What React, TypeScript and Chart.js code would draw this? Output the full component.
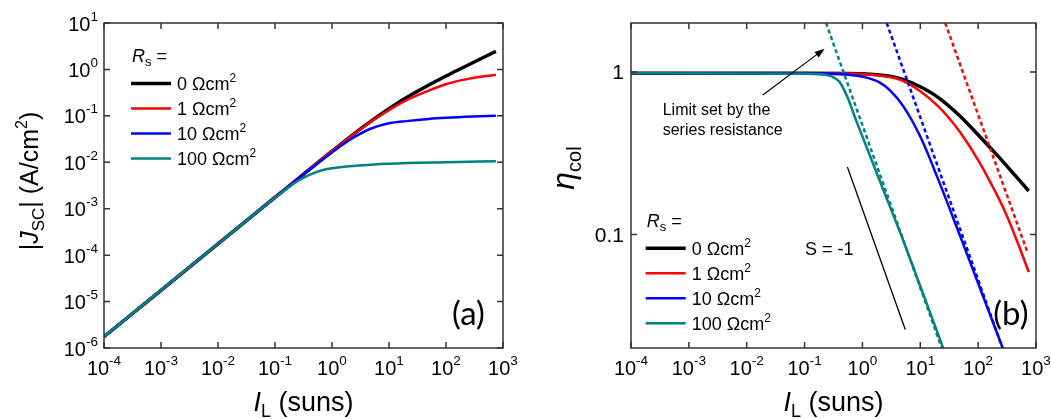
import { useEffect, useRef } from 'react';
import { Chart, registerables } from 'chart.js';

Chart.register(...registerables);

const FONT = "'Liberation Sans', Arial, sans-serif";

// Axis decades and tick labels
const X_DECADES = [-4, -3, -2, -1, 0, 1, 2, 3];
const JSC_DECADES = [-6, -5, -4, -3, -2, -1, 0, 1];
const ETA_TICKS = [1, 0.1];
const ETA_TICK_LABELS = ['1', '0.1'];

// Series resistance values (Ωcm²) and their styles
const RS_LABELS = ['0', '1', '10', '100'];
const RS_COLORS = ['#000000', '#ff0000', '#0000ff', '#008080'];
const RS_WIDTHS = [3.5, 2.5, 2.5, 2.5];

// (a) |Jsc| (A/cm²) versus light intensity (suns)
const jscSunsRs0 = [1e-4, 1e-3, 1e-2, 0.1, 0.3, 1, 3, 5, 10, 20, 50, 100, 200, 500, 750];
const jscRs0 = [1.75e-6, 1.75e-5, 1.75e-4, 1.75e-3, 5.25e-3, 0.0173, 0.05, 0.079, 0.142, 0.245, 0.46, 0.72, 1.1, 1.92, 2.45];
const jscSunsRs1 = [1e-4, 1e-3, 1e-2, 0.1, 0.3, 1, 3, 5, 10, 20, 50, 100, 200, 500, 750];
const jscRs1 = [1.75e-6, 1.75e-5, 1.75e-4, 1.75e-3, 5.25e-3, 0.0172, 0.049, 0.077, 0.133, 0.215, 0.35, 0.48, 0.595, 0.725, 0.765];
const jscSunsRs10 = [1e-4, 1e-3, 1e-2, 0.1, 0.3, 1, 2, 3, 5, 10, 20, 50, 100, 300, 750];
const jscRs10 = [1.75e-6, 1.75e-5, 1.75e-4, 1.75e-3, 5.2e-3, 0.0163, 0.03, 0.04, 0.054, 0.069, 0.077, 0.086, 0.091, 0.097, 0.101];
const jscSunsRs100 = [1e-4, 1e-3, 1e-2, 0.1, 0.2, 0.3, 0.5, 0.7, 1, 2, 5, 10, 100, 750];
const jscRs100 = [1.75e-6, 1.75e-5, 1.75e-4, 1.72e-3, 3.3e-3, 4.5e-3, 6.0e-3, 6.8e-3, 7.4e-3, 8.2e-3, 8.9e-3, 9.3e-3, 1.0e-2, 1.05e-2];

// (b) collection efficiency versus light intensity (suns)
const etaSunsRs0 = [1e-4, 0.1, 0.5, 1, 3, 5, 10, 20, 50, 100, 200, 500, 750];
const etaRs0 = [0.98, 0.98, 0.978, 0.975, 0.94, 0.9, 0.81, 0.7, 0.53, 0.41, 0.315, 0.218, 0.185];
const etaSunsRs1 = [1e-4, 0.1, 0.5, 1, 3, 5, 10, 20, 30, 50, 100, 200, 300, 500, 750];
const etaRs1 = [0.98, 0.98, 0.978, 0.972, 0.93, 0.88, 0.76, 0.618, 0.53, 0.421, 0.287, 0.182, 0.135, 0.086, 0.0586];
const etaSunsRs10 = [1e-4, 0.1, 0.3, 0.6, 1, 2, 3, 5, 10, 20, 50, 100, 250, 320];
const etaRs10 = [0.98, 0.98, 0.975, 0.96, 0.935, 0.86, 0.77, 0.62, 0.4, 0.222, 0.0955, 0.05, 0.0212, 0.0168];
const etaSunsRs100 = [1e-4, 0.1, 0.2, 0.3, 0.4, 0.55, 0.8, 1, 1.4, 2, 5, 10, 20, 30];
const etaRs100 = [0.98, 0.975, 0.965, 0.935, 0.87, 0.7, 0.49, 0.4, 0.295, 0.213, 0.093, 0.048, 0.0247, 0.0166];

// Series-resistance limits (dashed)
const limitSunsRs1 = [27, 700];
const limitRs1 = [2.0, 0.079];
const limitSunsRs10 = [2.63, 263];
const limitRs10 = [2.0, 0.02];
const limitSunsRs100 = [0.235, 23.5];
const limitRs100 = [2.0, 0.02];

// Slope reference line S = -1
const slopeSuns = [0.55, 5.5];
const slopeEta = [0.26, 0.026];

// Annotation arrow (suns, eta): tail then head
const arrowSuns = [0.019, 0.222];
const arrowEta = [0.72, 1.39];

type Run = { text: string; size: number; dy?: number; italic?: boolean; family?: string };

function fontOf(r: Run) {
  return `${r.italic ? 'italic ' : ''}${r.size}px ${r.family ?? FONT}`;
}

function drawRuns(ctx: CanvasRenderingContext2D, runs: Run[], x: number, y: number, align: 'left' | 'center' | 'right') {
  const widths = runs.map((r) => {
    ctx.font = fontOf(r);
    return ctx.measureText(r.text).width;
  });
  const total = widths.reduce((a, b) => a + b, 0);
  let cx = align === 'left' ? x : align === 'center' ? x - total / 2 : x - total;
  ctx.textAlign = 'left';
  ctx.textBaseline = 'alphabetic';
  runs.forEach((r, i) => {
    ctx.font = fontOf(r);
    ctx.fillText(r.text, cx, y + (r.dy ?? 0));
    cx += widths[i];
  });
}

function pow10Runs(e: number): Run[] {
  return [
    { text: '10', size: 20 },
    { text: String(e), size: 13.5, dy: -10 },
  ];
}

function series(xs: number[], ys: number[]) {
  return xs.map((x, i) => ({ x, y: ys[i] }));
}

function solid(i: number, xs: number[], ys: number[]) {
  return {
    data: series(xs, ys),
    borderColor: RS_COLORS[i],
    borderWidth: RS_WIDTHS[i],
    pointRadius: 0,
    cubicInterpolationMode: 'monotone' as const,
    fill: false,
    order: 3 - i,
  };
}

function dashed(i: number, xs: number[], ys: number[]) {
  return {
    data: series(xs, ys),
    borderColor: RS_COLORS[i],
    borderWidth: 2.5,
    borderDash: [4, 3],
    pointRadius: 0,
    fill: false,
    order: -1,
  };
}

type Area = { left: number; right: number; top: number; bottom: number };

function drawFrame(ctx: CanvasRenderingContext2D, ca: Area) {
  ctx.strokeStyle = '#333';
  ctx.lineWidth = 1.5;
  ctx.strokeRect(ca.left, ca.top, ca.right - ca.left, ca.bottom - ca.top);
}

function drawXTicks(ctx: CanvasRenderingContext2D, chart: any) {
  const ca = chart.chartArea;
  const xs = chart.scales.x;
  ctx.strokeStyle = '#333';
  ctx.lineWidth = 1.5;
  ctx.fillStyle = '#000';
  X_DECADES.forEach((e) => {
    const px = xs.getPixelForValue(Math.pow(10, e));
    ctx.beginPath();
    ctx.moveTo(px, ca.bottom);
    ctx.lineTo(px, ca.bottom - 6);
    ctx.moveTo(px, ca.top);
    ctx.lineTo(px, ca.top + 6);
    ctx.stroke();
    drawRuns(ctx, pow10Runs(e), px, ca.bottom + 27, 'center');
  });
}

function drawYTick(ctx: CanvasRenderingContext2D, ca: Area, py: number) {
  ctx.beginPath();
  ctx.moveTo(ca.left, py);
  ctx.lineTo(ca.left + 6, py);
  ctx.moveTo(ca.right, py);
  ctx.lineTo(ca.right - 6, py);
  ctx.stroke();
}

function drawXTitle(ctx: CanvasRenderingContext2D, ca: Area) {
  drawRuns(
    ctx,
    [
      { text: 'I', size: 27, italic: true },
      { text: 'L', size: 18, dy: 6 },
      { text: ' (suns)', size: 27 },
    ],
    (ca.left + ca.right) / 2,
    411,
    'center'
  );
}

function drawLegend(ctx: CanvasRenderingContext2D, x: number, headY: number, firstY: number) {
  ctx.fillStyle = '#000';
  drawRuns(
    ctx,
    [
      { text: 'R', size: 18, italic: true },
      { text: 's', size: 13, dy: 4 },
      { text: ' =', size: 18 },
    ],
    x + 1,
    headY,
    'left'
  );
  RS_LABELS.forEach((lab, i) => {
    const y = firstY + 25 * i;
    ctx.strokeStyle = RS_COLORS[i];
    ctx.lineWidth = RS_WIDTHS[i];
    ctx.beginPath();
    ctx.moveTo(x, y);
    ctx.lineTo(x + 40, y);
    ctx.stroke();
    drawRuns(
      ctx,
      [
        { text: `${lab} Ωcm`, size: 18 },
        { text: '2', size: 12, dy: -8 },
      ],
      x + 46,
      y + 6.5,
      'left'
    );
  });
}

const decorA = {
  id: 'decorA',
  afterDatasetsDraw(chart: any) {
    const ctx: CanvasRenderingContext2D = chart.ctx;
    const ca = chart.chartArea;
    const ys = chart.scales.y;
    ctx.save();
    drawFrame(ctx, ca);
    drawXTicks(ctx, chart);
    ctx.strokeStyle = '#333';
    ctx.lineWidth = 1.5;
    ctx.fillStyle = '#000';
    JSC_DECADES.forEach((e) => {
      const py = ys.getPixelForValue(Math.pow(10, e));
      drawYTick(ctx, ca, py);
      drawRuns(ctx, pow10Runs(e), ca.left - 6, py + 7.5, 'right');
    });
    drawXTitle(ctx, ca);

    // rotated y title
    ctx.save();
    ctx.translate(38, 181);
    ctx.rotate(-Math.PI / 2);
    drawRuns(
      ctx,
      [
        { text: '|', size: 25 },
        { text: 'J', size: 25, italic: true },
        { text: 'SC', size: 17, dy: 6 },
        { text: '| (A/cm', size: 25 },
        { text: '2', size: 16, dy: -11 },
        { text: ')', size: 25 },
      ],
      0,
      0,
      'center'
    );
    ctx.restore();

    drawLegend(ctx, 131, 61.5, 83.5);

    ctx.fillStyle = '#000';
    drawRuns(ctx, [{ text: '(a)', size: 33, family: "Lato, 'Open Sans', sans-serif" }], 452, 325, 'left');
    ctx.restore();
  },
};

const decorB = {
  id: 'decorB',
  afterDatasetsDraw(chart: any) {
    const ctx: CanvasRenderingContext2D = chart.ctx;
    const ca = chart.chartArea;
    const xs = chart.scales.x;
    const ys = chart.scales.y;
    ctx.save();
    drawFrame(ctx, ca);
    drawXTicks(ctx, chart);
    ctx.strokeStyle = '#333';
    ctx.lineWidth = 1.5;
    ctx.fillStyle = '#000';
    ETA_TICKS.forEach((v, i) => {
      const py = ys.getPixelForValue(v);
      drawYTick(ctx, ca, py);
      drawRuns(ctx, [{ text: ETA_TICK_LABELS[i], size: 21 }], ca.left - 7, py + 7.5, 'right');
    });
    drawXTitle(ctx, ca);

    // rotated y title
    ctx.save();
    ctx.translate(44, 168);
    ctx.rotate(-Math.PI / 2);
    drawRuns(
      ctx,
      [
        { text: 'η', size: 32, italic: true },
        { text: 'col', size: 20, dy: 7 },
      ],
      0,
      0,
      'center'
    );
    ctx.restore();

    // annotation arrow
    const x0 = xs.getPixelForValue(arrowSuns[0]);
    const y0 = ys.getPixelForValue(arrowEta[0]);
    const x1 = xs.getPixelForValue(arrowSuns[1]);
    const y1 = ys.getPixelForValue(arrowEta[1]);
    const ang = Math.atan2(y1 - y0, x1 - x0);
    ctx.strokeStyle = '#000';
    ctx.lineWidth = 1.2;
    ctx.beginPath();
    ctx.moveTo(x0, y0);
    ctx.lineTo(x1 - 7 * Math.cos(ang), y1 - 7 * Math.sin(ang));
    ctx.stroke();
    ctx.fillStyle = '#000';
    ctx.beginPath();
    ctx.moveTo(x1, y1);
    ctx.lineTo(x1 - 10 * Math.cos(ang) + 3.5 * Math.sin(ang), y1 - 10 * Math.sin(ang) - 3.5 * Math.cos(ang));
    ctx.lineTo(x1 - 10 * Math.cos(ang) - 3.5 * Math.sin(ang), y1 - 10 * Math.sin(ang) + 3.5 * Math.cos(ang));
    ctx.closePath();
    ctx.fill();

    drawRuns(ctx, [{ text: 'Limit set by the', size: 16 }], 132.7, 115, 'left');
    drawRuns(ctx, [{ text: 'series resistance', size: 16 }], 132.7, 134.5, 'left');
    drawRuns(ctx, [{ text: 'S = -1', size: 18 }], 275, 254.5, 'left');

    drawLegend(ctx, 115.7, 227, 248.3);

    ctx.fillStyle = '#000';
    drawRuns(ctx, [{ text: '(b)', size: 33, family: "Lato, 'Open Sans', sans-serif" }], 463.3, 325, 'left');
    ctx.restore();
  },
};

function buildA(canvas: HTMLCanvasElement) {
  return new Chart(canvas, {
    type: 'line',
    data: {
      datasets: [
        solid(0, jscSunsRs0, jscRs0),
        solid(1, jscSunsRs1, jscRs1),
        solid(2, jscSunsRs10, jscRs10),
        solid(3, jscSunsRs100, jscRs100),
      ] as any,
    },
    options: {
      responsive: false,
      animation: false,
      devicePixelRatio: 1,
      layout: { padding: { left: 104, right: 27, top: 23, bottom: 71 } },
      plugins: { legend: { display: false }, tooltip: { enabled: false } },
      scales: {
        x: { type: 'logarithmic', min: 1e-4, max: 1e3, display: false },
        y: { type: 'logarithmic', min: 1e-6, max: 10, display: false },
      },
    },
    plugins: [decorA],
  });
}

function buildB(canvas: HTMLCanvasElement) {
  return new Chart(canvas, {
    type: 'line',
    data: {
      datasets: [
        solid(0, etaSunsRs0, etaRs0),
        solid(1, etaSunsRs1, etaRs1),
        solid(2, etaSunsRs10, etaRs10),
        solid(3, etaSunsRs100, etaRs100),
        dashed(1, limitSunsRs1, limitRs1),
        dashed(2, limitSunsRs10, limitRs10),
        dashed(3, limitSunsRs100, limitRs100),
        {
          data: series(slopeSuns, slopeEta),
          borderColor: '#000',
          borderWidth: 1.3,
          pointRadius: 0,
          fill: false,
          order: 5,
        },
      ] as any,
    },
    options: {
      responsive: false,
      animation: false,
      devicePixelRatio: 1,
      layout: { padding: { left: 101, right: 15, top: 23, bottom: 71 } },
      plugins: { legend: { display: false }, tooltip: { enabled: false } },
      scales: {
        x: { type: 'logarithmic', min: 1e-4, max: 1e3, display: false },
        y: { type: 'logarithmic', min: 0.02, max: 2, display: false },
      },
    },
    plugins: [decorB],
  });
}

function Panel({ build, left, width }: { build: (c: HTMLCanvasElement) => Chart; left: number; width: number }) {
  const ref = useRef<HTMLCanvasElement>(null);
  useEffect(() => {
    const chart = build(ref.current as HTMLCanvasElement);
    return () => chart.destroy();
  }, [build]);
  return (
    <div style={{ position: 'absolute', left, top: 0, width, height: 419 }}>
      <canvas ref={ref} width={width} height={419} style={{ display: 'block', width, height: 419 }} />
    </div>
  );
}

export default function App() {
  return (
    <div style={{ position: 'absolute', left: 0, top: 0, width: 1051, height: 419, background: '#fff', overflow: 'hidden' }}>
      <Panel build={buildA} left={0} width={530} />
      <Panel build={buildB} left={530} width={521} />
    </div>
  );
}
